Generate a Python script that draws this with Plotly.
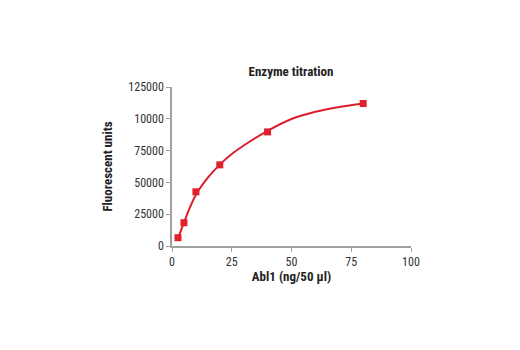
import plotly.graph_objects as go

# Measured points
conc = [2.5, 5, 10, 20, 40, 80]
fluor = [6500, 18300, 42600, 63800, 89700, 112000]

# Fitted curve
fit_x = [2.5, 5, 7.5, 10, 15, 20, 25, 30, 40, 50, 60, 70, 80]
fit_y = [6000, 18300, 30300, 40300, 53700, 64000, 72300, 79000, 90500, 99800, 105500, 109300, 112000]

x_ticks = [0, 25, 50, 75, 100]
y_ticks = [0, 25000, 50000, 75000, 100000, 125000]
y_tick_text = ["0", "25000", "50000", "75000", "10000", "125000"]

FONT = "Liberation Sans Narrow, Arial Narrow, Roboto Condensed, sans-serif"
RED = "#e0202a"

fig = go.Figure()
fig.add_trace(go.Scatter(x=fit_x, y=fit_y, mode="lines",
                         line=dict(color="#dc1f2b", width=2, shape="spline", smoothing=1.0),
                         hoverinfo="skip", showlegend=False))
fig.add_trace(go.Scatter(x=conc, y=fluor, mode="markers",
                         marker=dict(symbol="square", size=7, color=RED),
                         showlegend=False))

fig.update_layout(
    width=520, height=350,
    margin=dict(l=172, r=109, t=87, b=104),
    paper_bgcolor="white", plot_bgcolor="white",
    font=dict(family=FONT, size=12, color="#333333"),
    title=dict(text="<b>Enzyme titration</b>", x=291 / 520,
               xanchor="center", y=1 - 71 / 350, yanchor="middle",
               font=dict(family=FONT, size=13, color="#222222")),
)
fig.update_xaxes(range=[0, 100], tickvals=x_ticks, showgrid=False, zeroline=False,
                 showline=True, linecolor="#a0a0a0", linewidth=1.5,
                 ticks="outside", ticklen=4, tickcolor="#a0a0a0",
                 tickfont=dict(family=FONT, size=12, color="#333333"),
                 title=dict(text="<b>Abl1 (ng/50 µl)</b>", standoff=3,
                            font=dict(family=FONT, size=13, color="#222222")))
fig.update_yaxes(range=[0, 125000], tickvals=y_ticks, ticktext=y_tick_text,
                 showgrid=False, zeroline=False,
                 showline=True, linecolor="#a0a0a0", linewidth=1.5,
                 ticks="outside", ticklen=4, tickcolor="#a0a0a0",
                 tickfont=dict(family=FONT, size=12, color="#333333"),
                 title=dict(text="<b>Fluorescent units</b>", standoff=13,
                            font=dict(family=FONT, size=13, color="#222222")))

fig.write_html("out.html")
